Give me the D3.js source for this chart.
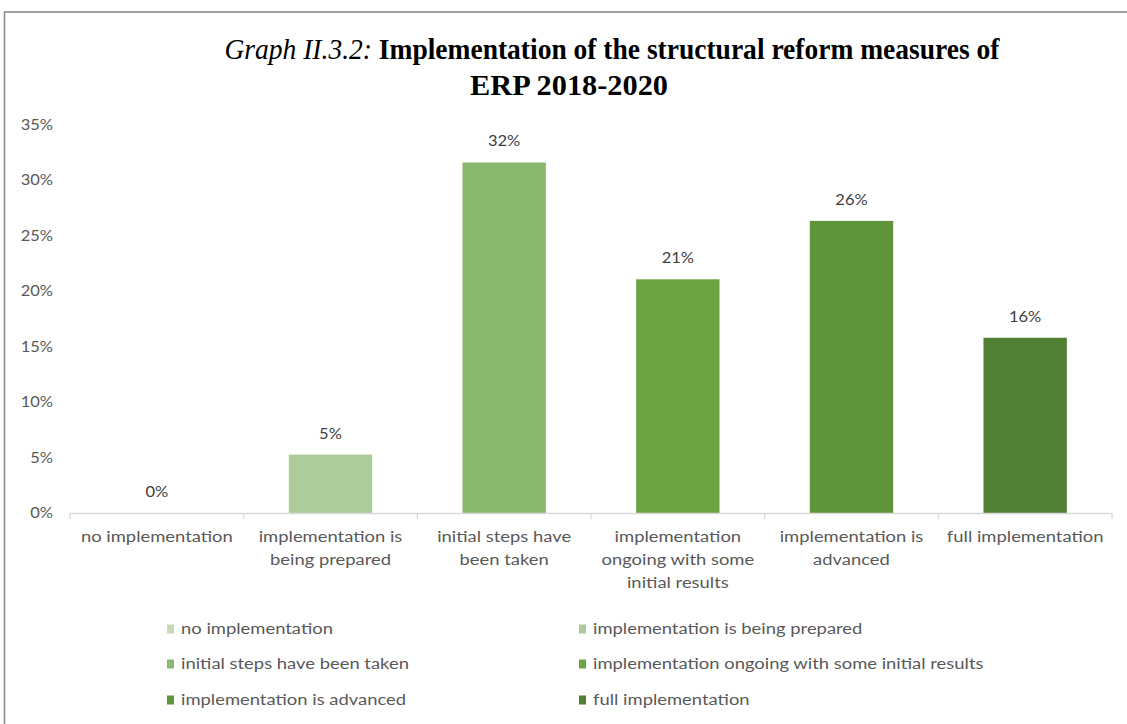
<!DOCTYPE html>
<html>
<head>
<meta charset="utf-8">
<script src="https://cdn.jsdelivr.net/npm/d3@7"></script>
<style>
  html, body { margin: 0; padding: 0; background: #fff; }
  svg { display: block; }
</style>
</head>
<body>
<svg id="chart" width="1127" height="724"></svg>
<script>
// Share of structural reform measures by implementation stage (19 measures)
const categories = [
  "no implementation",
  "implementation is being prepared",
  "initial steps have been taken",
  "implementation ongoing with some initial results",
  "implementation is advanced",
  "full implementation"
];
const axisLabelLines = [
  ["no implementation"],
  ["implementation is", "being prepared"],
  ["initial steps have", "been taken"],
  ["implementation", "ongoing with some", "initial results"],
  ["implementation is", "advanced"],
  ["full implementation"]
];
const values = [0 / 19, 1 / 19, 6 / 19, 4 / 19, 5 / 19, 3 / 19];
const colors = ["#c5dab8", "#aecb9c", "#8bb86f", "#6ca443", "#5f943a", "#517f34"];
const yTicks = [0, 0.05, 0.10, 0.15, 0.20, 0.25, 0.30, 0.35];

const svg = d3.select("#chart");
const labelFont = "Lato, 'Open Sans', sans-serif";
const textColor = "#595959";
const wide = 1.15; // horizontal stretch of the body text
const pct = d3.format(".0%");

// outer frame
svg.append("rect")
  .attr("x", 4.5).attr("y", 12)
  .attr("width", 1140).attr("height", 730)
  .attr("fill", "none").attr("stroke", "#8c8c8c").attr("stroke-width", 1.6);

// title
const title = svg.append("g").attr("font-family", "'Liberation Serif', 'Times New Roman', serif").attr("fill", "#000");
const t1 = title.append("text")
  .attr("x", 612).attr("y", 59).attr("text-anchor", "middle")
  .attr("font-size", 30)
  .attr("textLength", 775).attr("lengthAdjust", "spacingAndGlyphs");
t1.append("tspan").attr("font-style", "italic").text("Graph II.3.2: ");
t1.append("tspan").attr("font-weight", "bold").text("Implementation of the structural reform measures of");
title.append("text")
  .attr("x", 569).attr("y", 95).attr("text-anchor", "middle")
  .attr("font-size", 30).attr("font-weight", "bold")
  .attr("textLength", 198).attr("lengthAdjust", "spacingAndGlyphs")
  .text("ERP 2018-2020");

// scales
const x = d3.scaleBand().domain(categories).range([70, 1112]).paddingInner(0.52).paddingOuter(0.26);
const y = d3.scaleLinear().domain([0, 0.35]).range([513, 124.5]);

// y axis (labels only)
const yAxis = svg.append("g").attr("font-family", labelFont).attr("font-size", 15).attr("fill", textColor);
yAxis.selectAll("text").data(yTicks).join("text")
  .attr("transform", d => `translate(53,${y(d) + 5}) scale(1.1,1)`)
  .attr("text-anchor", "end")
  .text(pct);

// bars
svg.append("g").selectAll("rect").data(values).join("rect")
  .attr("x", (d, i) => x(categories[i]))
  .attr("width", x.bandwidth())
  .attr("y", d => y(d))
  .attr("height", d => y(0) - y(d))
  .attr("fill", (d, i) => colors[i]);

// data labels
svg.append("g").selectAll("text").data(values).join("text")
  .attr("transform", (d, i) => `translate(${x(categories[i]) + x.bandwidth() / 2},${y(d) - 16}) scale(1.1,1)`)
  .attr("text-anchor", "middle")
  .attr("font-family", labelFont).attr("font-size", 15).attr("fill", "#404040")
  .text(pct);

// x axis line and category boundary ticks
const step = x.step();
const x0 = 70;
const axisG = svg.append("g");
axisG.append("line").attr("x1", x0).attr("x2", x0 + step * categories.length)
  .attr("y1", y(0) + 0.5).attr("y2", y(0) + 0.5).attr("stroke", "#d9d9d9").attr("stroke-width", 1.3);
axisG.selectAll("line.tick").data(d3.range(categories.length + 1)).join("line")
  .attr("class", "tick")
  .attr("x1", i => x0 + i * step).attr("x2", i => x0 + i * step)
  .attr("y1", y(0)).attr("y2", y(0) + 6).attr("stroke", "#d9d9d9").attr("stroke-width", 1.3);

// category labels
const catG = svg.append("g").attr("font-family", labelFont).attr("font-size", 16).attr("fill", textColor);
categories.forEach((c, i) => {
  const t = catG.append("text").attr("text-anchor", "middle")
    .attr("transform", `translate(${x(c) + x.bandwidth() / 2},542) scale(${wide},1)`);
  axisLabelLines[i].forEach((line, k) => {
    t.append("tspan").attr("x", 0).attr("dy", k === 0 ? 0 : 23).text(line);
  });
});

// legend (two columns, three rows)
const legend = svg.append("g").attr("font-family", labelFont).attr("font-size", 16).attr("fill", textColor);
const legendCols = [167, 579];
const legendRows = [629, 664, 700];
categories.forEach((c, i) => {
  const lx = legendCols[i % 2];
  const ly = legendRows[Math.floor(i / 2)];
  legend.append("rect").attr("x", lx).attr("y", ly - 4.5).attr("width", 7).attr("height", 9).attr("fill", colors[i]);
  legend.append("text").attr("transform", `translate(${lx + 14},${ly + 5}) scale(${wide},1)`).text(c);
});
</script>
</body>
</html>
